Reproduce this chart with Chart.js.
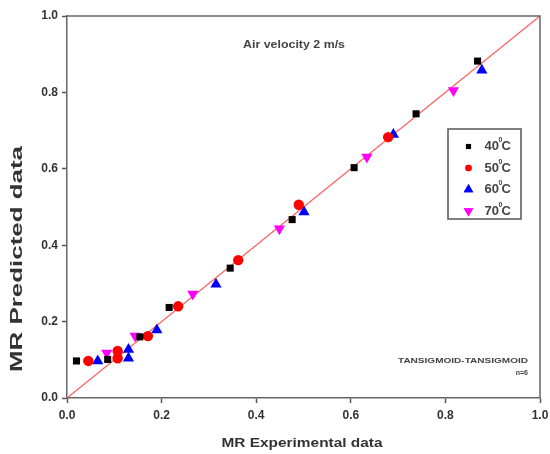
<!DOCTYPE html>
<html>
<head>
<meta charset="utf-8">
<script src="https://cdn.jsdelivr.net/npm/chart.js@4/dist/chart.umd.min.js"></script>
<style>
  html, body { margin: 0; padding: 0; background: #fff; }
  #wrap { width: 550px; height: 454px; }
</style>
</head>
<body>
<div id="wrap"><canvas id="chart" width="550" height="454"></canvas></div>
<script>
// values (MR experimental vs MR predicted)
const exp40 = [0.020, 0.086, 0.154, 0.216, 0.345, 0.476, 0.607, 0.738, 0.868];
const pred40 = [0.097, 0.101, 0.160, 0.237, 0.340, 0.467, 0.603, 0.744, 0.882];
const exp50 = [0.045, 0.107, 0.107, 0.171, 0.235, 0.362, 0.490, 0.679];
const pred50 = [0.097, 0.123, 0.104, 0.162, 0.240, 0.361, 0.506, 0.683];
const exp60 = [0.065, 0.130, 0.130, 0.190, 0.315, 0.501, 0.690, 0.877];
const pred60 = [0.097, 0.127, 0.104, 0.178, 0.298, 0.487, 0.690, 0.858];
const exp70 = [0.084, 0.144, 0.266, 0.449, 0.634, 0.817];
const pred70 = [0.118, 0.162, 0.272, 0.443, 0.631, 0.805];
const temps = ['40', '50', '60', '70'];
const fitLine = [0, 1];

const toPoints = (xs, ys) => xs.map((x, i) => ({ x: x, y: ys[i] }));

const series = [
  { label: temps[0], data: toPoints(exp40, pred40), color: '#000000', style: 'rect', radius: 5, rot: 0, legendR: 3.6 },
  { label: temps[1], data: toPoints(exp50, pred50), color: '#ff0000', style: 'circle', radius: 5.2, rot: 0, legendR: 3.2 },
  { label: temps[2], data: toPoints(exp60, pred60), color: '#0000ff', style: 'triangle', radius: 6.5, rot: 0, legendR: 5.5 },
  { label: temps[3], data: toPoints(exp70, pred70), color: '#ff00ff', style: 'triangle', radius: 6.5, rot: 180, legendR: 5.5 },
];

const FONT = '"Liberation Sans", Arial, sans-serif';
const TXT = '#333';

// draw text stretched to a given width
function stretchText(ctx, text, cx, cy, font, targetW, angle) {
  ctx.save();
  ctx.font = font;
  const w = ctx.measureText(text).width;
  ctx.translate(cx, cy);
  ctx.rotate(angle || 0);
  ctx.scale(targetW / w, 1);
  ctx.textAlign = 'center';
  ctx.textBaseline = 'middle';
  ctx.fillText(text, 0, 0);
  ctx.restore();
}

const decor = {
  id: 'decor',
  afterDraw(chart) {
    const ctx = chart.ctx;
    const a = chart.chartArea;
    ctx.save();

    // top and right frame
    ctx.strokeStyle = '#666';
    ctx.lineWidth = 1.5;
    ctx.beginPath();
    ctx.moveTo(a.left, a.top);
    ctx.lineTo(a.right, a.top);
    ctx.lineTo(a.right, a.bottom);
    ctx.stroke();

    ctx.fillStyle = TXT;
    // axis titles
    stretchText(ctx, 'MR Predicted data', 18, 259, 'bold 16px ' + FONT, 226, -Math.PI / 2);
    stretchText(ctx, 'MR Experimental data', 302, 443, 'bold 13px ' + FONT, 161, 0);

    // annotations
    ctx.fillStyle = '#444';
    stretchText(ctx, 'Air velocity 2 m/s', 294, 45, 'bold 11px ' + FONT, 102, 0);
    stretchText(ctx, 'TANSIGMOID-TANSIGMOID', 463, 361, 'bold 7px ' + FONT, 130, 0);
    ctx.font = 'bold 7px ' + FONT;
    ctx.textAlign = 'right';
    ctx.textBaseline = 'middle';
    ctx.fillText('n=6', 528, 373);

    // legend box
    const lx = 448, ly = 129, lw = 73, lh = 90;
    ctx.strokeStyle = '#555';
    ctx.lineWidth = 1.5;
    ctx.strokeRect(lx, ly, lw, lh);
    series.forEach((s, i) => {
      const y = 146.5 + i * 21.5;
      ctx.fillStyle = s.color;
      ctx.strokeStyle = s.color;
      Chart.helpers.drawPoint(ctx, { pointStyle: s.style, radius: s.legendR, rotation: s.rot, borderWidth: 0 }, 468.5, y);
      ctx.fill();
      ctx.fillStyle = '#444';
      ctx.textAlign = 'left';
      ctx.textBaseline = 'middle';
      ctx.font = 'bold 13px ' + FONT;
      ctx.fillText(s.label, 484.5, y);
      const w = ctx.measureText(s.label).width;
      ctx.font = 'bold 7px ' + FONT;
      ctx.fillText('0', 484.5 + w - 0.5, y - 6);
      ctx.font = 'bold 13px ' + FONT;
      ctx.fillText('C', 484.5 + w + 2.5, y);
    });
    ctx.restore();
  }
};

const datasets = series.map(s => ({
  type: 'scatter',
  label: s.label,
  data: s.data,
  backgroundColor: s.color,
  borderColor: s.color,
  borderWidth: 0,
  pointStyle: s.style,
  pointRadius: s.radius,
  pointRotation: s.rot,
  order: 1,
}));

datasets.push({
  type: 'line',
  label: 'fit',
  data: toPoints(fitLine, fitLine),
  borderColor: 'rgba(255, 70, 70, 0.9)',
  borderWidth: 1.2,
  pointRadius: 0,
  order: 10,
});

const axisCommon = {
  type: 'linear',
  min: 0,
  max: 1,
  grid: { drawOnChartArea: false, tickLength: 5, color: '#555', tickWidth: 1.5 },
  border: { display: true, color: '#666', width: 1.5 },
  ticks: {
    stepSize: 0.2,
    color: TXT,
    font: { family: FONT, size: 12, weight: 'bold' },
    callback: v => Number(v).toFixed(1),
  },
};

new Chart(document.getElementById('chart'), {
  data: { datasets: datasets },
  options: {
    responsive: false,
    animation: false,
    layout: { padding: { left: 0, top: 16, right: 10, bottom: 0 } },
    plugins: { legend: { display: false }, tooltip: { enabled: false } },
    scales: {
      x: Object.assign({}, axisCommon, {
        position: 'bottom',
        ticks: Object.assign({}, axisCommon.ticks, { padding: 5 }),
        afterFit: scale => { scale.height = 56; scale.paddingRight = 0; scale.paddingLeft = 0; },
      }),
      y: Object.assign({}, axisCommon, {
        position: 'left',
        ticks: Object.assign({}, axisCommon.ticks, { padding: 4 }),
        afterFit: scale => { scale.width = 67; scale.paddingTop = 0; scale.paddingBottom = 0; },
      }),
    },
  },
  plugins: [decor],
});
</script>
</body>
</html>
